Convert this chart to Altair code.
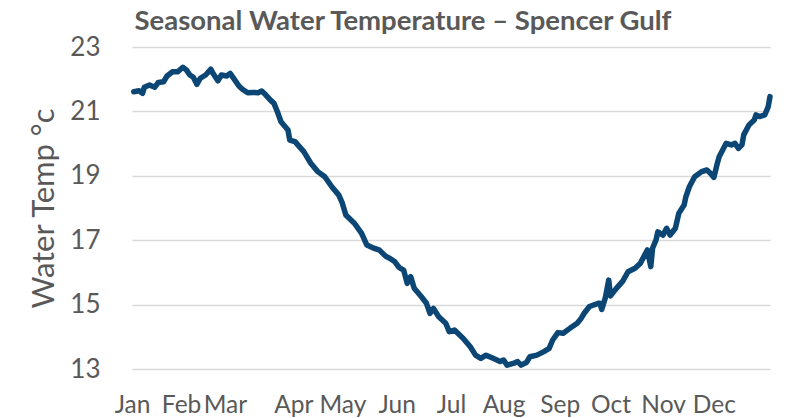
import altair as alt
import pandas as pd

# ---- data ----
days = [1, 4, 6, 7, 10, 13, 15, 18, 20, 23, 26, 29, 31, 33, 35, 37, 39, 42, 45, 46,
        49, 51, 54, 56, 59, 61, 63, 66, 69, 72, 74, 76, 79, 81, 83, 85, 89, 90, 93, 98,
        102, 106, 110, 114, 118, 120, 122, 127, 131, 134, 138, 141, 145, 147, 150, 152,
        153, 155, 157, 159, 161, 165, 168, 170, 172, 175, 179, 181, 184, 189, 193, 196,
        199, 202, 206, 210, 212, 214, 218, 220, 222, 225, 227, 231, 235, 238, 240, 243,
        246, 250, 254, 256, 258, 261, 266, 267, 268, 270, 272, 273, 276, 280, 283, 287,
        290, 293, 294, 296, 297, 299, 300, 303, 305, 307, 310, 312, 315, 316, 318, 321,
        325, 328, 330, 332, 334, 335, 337, 339, 342, 344, 346, 348, 349, 352, 355, 356,
        358, 361, 363, 364]
temps = [21.61, 21.64, 21.56, 21.75, 21.82, 21.75, 21.90, 21.92, 22.10, 22.23, 22.23,
         22.37, 22.29, 22.13, 22.06, 21.84, 22.03, 22.13, 22.31, 22.20, 21.95, 22.13,
         22.10, 22.18, 21.95, 21.79, 21.69, 21.58, 21.59, 21.58, 21.63, 21.53, 21.35,
         21.25, 20.98, 20.68, 20.42, 20.11, 20.06, 19.75, 19.39, 19.13, 18.97, 18.66,
         18.40, 18.15, 17.78, 17.52, 17.21, 16.85, 16.75, 16.70, 16.49, 16.44, 16.33,
         16.18, 16.13, 16.07, 15.66, 15.87, 15.51, 15.25, 15.04, 14.73, 14.88, 14.62,
         14.42, 14.16, 14.21, 13.95, 13.69, 13.43, 13.33, 13.43, 13.33, 13.23, 13.28,
         13.12, 13.18, 13.23, 13.12, 13.20, 13.38, 13.43, 13.54, 13.64, 13.90, 14.13,
         14.11, 14.27, 14.42, 14.55, 14.73, 14.94, 15.04, 15.04, 14.85, 15.20, 15.76,
         15.27, 15.48, 15.73, 16.02, 16.13, 16.28, 16.59, 16.70, 16.18, 16.75, 17.01,
         17.26, 17.16, 17.37, 17.16, 17.37, 17.84, 18.09, 18.35, 18.66, 18.97, 19.13,
         19.18, 19.08, 18.95, 19.40, 19.59, 19.80, 20.01, 19.96, 20.01, 19.85, 19.96,
         20.27, 20.58, 20.73, 20.89, 20.84, 20.89, 21.15, 21.46]

month_names = ["Jan", "Feb", "Mar", "Apr", "May", "Jun",
               "Jul", "Aug", "Sep", "Oct", "Nov", "Dec"]
month_label_days = [0, 28, 53, 92, 120, 151, 182, 212, 244, 273, 303, 332]
y_ticks = [13, 15, 17, 19, 21, 23]

df = pd.DataFrame({"day": days, "temp": temps})

names_js = "[" + ",".join("'%s'" % m for m in month_names) + "]"
vals_js = "[" + ",".join(str(v) for v in month_label_days) + "]"
label_expr = f"{names_js}[indexof({vals_js}, datum.value)]"

GREY = "#595959"
FONT = "Lato"

chart = alt.Chart(df).mark_line(
    color="#0b4675", strokeWidth=5.5, strokeJoin="round", strokeCap="round"
).encode(
    x=alt.X("day:Q",
            scale=alt.Scale(domain=[0, 364], nice=False, zero=False),
            axis=alt.Axis(values=month_label_days, labelExpr=label_expr,
                          title=None, grid=False, domain=False, ticks=False,
                          labelOverlap=False, labelFlush=False, labelBound=False,
                          labelFont=FONT, labelFontSize=24.5, labelColor=GREY,
                          labelPadding=24)),
    y=alt.Y("temp:Q",
            scale=alt.Scale(domain=[13, 23], nice=False, zero=False),
            axis=alt.Axis(values=y_ticks, title="Water Temp °c",
                          grid=True, gridColor="#d9d9d9", gridWidth=1.5,
                          domain=False, ticks=False,
                          labelFont=FONT, labelFontSize=26, labelColor=GREY,
                          labelPadding=32,
                          titleFont=FONT, titleFontSize=31, titleColor=GREY,
                          titleFontWeight="normal",
                          titleX=-79, titleY=161, titleAngle=-90,
                          titleAlign="center", titleBaseline="alphabetic")),
).properties(
    width=638,
    height=322,
    title=alt.TitleParams("Seasonal Water Temperature – Spencer Gulf",
                          font=FONT, fontSize=27.5, fontWeight="bold", color=GREY,
                          anchor="middle", dx=-48, dy=23, offset=0,
                          baseline="alphabetic"),
    autosize=alt.AutoSizeParams(type="none"),
    padding={"left": 124, "top": 39, "right": 10, "bottom": 55},
    background="white",
).configure_view(stroke=None)

chart.save("out.html", embed_options={"renderer": "svg", "actions": False})
